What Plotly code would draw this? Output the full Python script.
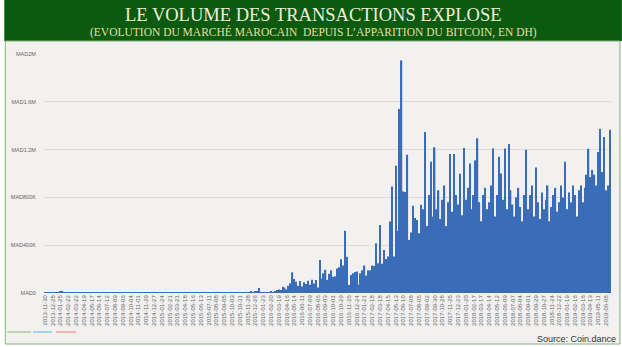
import plotly.graph_objects as go
import pandas as pd

W, H = 622, 347
L, R, T, B = 40, 11, 54, 54

# weekly categories
dates = pd.date_range("2013-11-30", periods=291, freq="7D").strftime("%Y-%m-%d").tolist()
tick_dates = dates[::4]

# weekly volume, thousands of MAD
vol_2013_2016 = [
    2, 1, 3, 2, 4, 3, 2, 5, 14, 10,
    4, 2, 1, 2, 3, 1, 2, 2, 1, 3,
    2, 1, 1, 2, 2, 3, 1, 2, 1, 2,
    1, 2, 2, 1, 3, 2, 1, 1, 2, 2,
    3, 1, 2, 1, 2, 2, 1, 3, 2, 1,
    2, 2, 1, 1, 2, 3, 1, 2, 2, 1,
    1, 2, 1, 2, 3, 2, 1, 2, 1, 2,
    2, 1, 3, 2, 1, 2, 2, 1, 2, 3,
    1, 2, 2, 3, 1, 2, 4, 2, 3, 2,
    3, 2, 4, 3, 2, 3, 5, 3, 4, 4,
    3, 5, 4, 6, 8, 5, 9, 7, 10, 12,
    42, 8, 5, 6, 4, 8, 10, 6, 12,
]
vol_growth = [
    25, 30, 25, 53, 45, 30, 60, 81, 173, 117,
    95, 60, 100, 55, 90, 75, 103, 70, 110, 80,
    109, 45, 277, 120, 165, 195, 110, 160, 190, 135,
    140, 205, 215, 283, 230, 520, 304, 67, 150, 165,
    175, 180, 70, 165, 190, 230, 145, 190, 190, 230,
    225, 417, 250, 568, 245, 360, 285, 305, 598, 891,
    305, 1065, 520, 1540, 1946, 850, 845, 1157, 445, 506,
    730, 627, 610, 500, 738,
]
vol_plateau = [
    700, 1348, 560, 820, 1098, 640, 1219, 700, 860, 620,
    780, 900, 560, 760, 1163, 680, 1163, 820, 740, 998,
    650, 1213, 780, 880, 1084, 700, 820, 1110, 1294, 760,
    600, 820, 880, 700, 760, 900, 1210, 640, 820, 1140,
    1000, 780, 1210, 700, 1247, 860, 740, 640, 800, 880,
    720, 600, 820, 1199, 700, 820, 900, 640, 1051, 760,
    620, 840, 700, 780, 900, 600, 720, 820, 880, 680,
    760, 900, 800, 1098, 700, 840, 760, 900, 820, 640,
    860, 900, 760, 880, 990, 1207, 970, 1030, 990, 900,
    1180, 1373, 1012, 1306, 860, 900, 1367,
]
volume_k = vol_2013_2016 + vol_growth + vol_plateau
volume = [v * 1000 for v in volume_k]

y_ticks = [0, 400000, 800000, 1200000, 1600000, 2000000]
y_labels = ["MAD0", "MAD400K", "MAD800K", "MAD1.2M", "MAD1.6M", "MAD2M"]

title = "LE VOLUME DES TRANSACTIONS EXPLOSE"
subtitle = "(EVOLUTION DU MARCHÉ MAROCAIN  DEPUIS L’APPARITION DU BITCOIN, EN DH)"
source = "Source: Coin.dance"


def fx(px):
    return (px - L) / (W - L - R)


def fy(py):
    return (H - B - py) / (H - T - B)


fig = go.Figure()
fig.add_trace(go.Bar(x=dates, y=volume, marker=dict(color="#3a6db8", line=dict(width=0))))

shapes = [
    dict(type="rect", xref="paper", yref="paper", x0=fx(0), x1=fx(W), y0=fy(41), y1=fy(0),
         fillcolor="#0a5a10", line=dict(width=0), layer="below"),
    dict(type="rect", xref="paper", yref="paper", x0=fx(1), x1=fx(620), y0=fy(344), y1=fy(41),
         fillcolor="#f2f1f0", line=dict(color="#86b07a", width=1), layer="below"),
    dict(type="line", xref="paper", yref="paper", x0=fx(3), x1=fx(27), y0=fy(332), y1=fy(332),
         line=dict(color="#a6d493", width=1.5)),
    dict(type="line", xref="paper", yref="paper", x0=fx(29), x1=fx(48), y0=fy(332), y1=fy(332),
         line=dict(color="#92c6ea", width=1.5)),
    dict(type="line", xref="paper", yref="paper", x0=fx(52), x1=fx(72), y0=fy(332), y1=fy(332),
         line=dict(color="#f1a394", width=1.5)),
]

annotations = [
    dict(text=title, xref="paper", yref="paper", x=fx(311), y=fy(15), showarrow=False,
         xanchor="center", yanchor="middle",
         font=dict(family="Liberation Serif, Times New Roman, serif", size=18.5, color="#f3eed6")),
    dict(text=subtitle, xref="paper", yref="paper", x=fx(311), y=fy(32), showarrow=False,
         xanchor="center", yanchor="middle",
         font=dict(family="Liberation Serif, Times New Roman, serif", size=11.5, color="#ebdf9e")),
    dict(text=source, xref="paper", yref="paper", x=fx(618), y=fy(339), showarrow=False,
         xanchor="right", yanchor="middle",
         font=dict(family="Liberation Sans Narrow, Liberation Sans, sans-serif", size=9, color="#333333")),
]

fig.update_layout(
    width=W, height=H,
    margin=dict(l=L, r=R, t=T, b=B, pad=0),
    paper_bgcolor="white",
    plot_bgcolor="rgba(0,0,0,0)",
    showlegend=False,
    bargap=0.3,
    shapes=shapes,
    annotations=annotations,
    xaxis=dict(type="category", tickmode="array", tickvals=tick_dates, ticktext=tick_dates,
               tickangle=-90, tickfont=dict(family="Liberation Sans, sans-serif", size=6, color="#666666"),
               showgrid=False, zeroline=False, showline=False, ticks="", range=[-0.5, 290.5]),
    yaxis=dict(range=[0, 2000000], tickmode="array", tickvals=y_ticks, ticktext=y_labels,
               tickfont=dict(family="Liberation Sans, sans-serif", size=5.5, color="#666666"),
               showgrid=True, gridcolor="#dcdcdc", gridwidth=1, zeroline=False, showline=False,
               ticks="outside", ticklen=6, tickcolor="rgba(0,0,0,0)"),
)

fig.write_html("out.html")
